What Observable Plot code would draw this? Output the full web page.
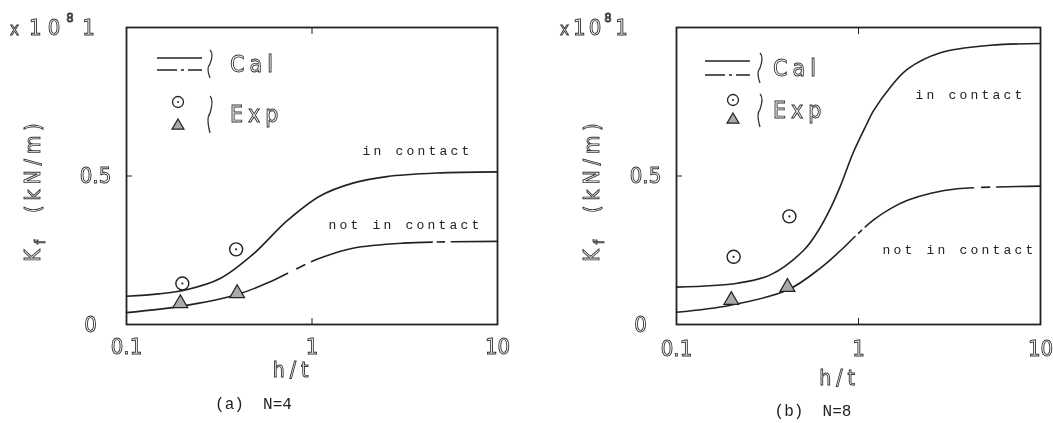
<!DOCTYPE html>
<html><head><meta charset="utf-8">
<script src="https://cdn.jsdelivr.net/npm/d3@7"></script>
<script src="https://cdn.jsdelivr.net/npm/@observablehq/plot@0.6"></script>
<style>
body{margin:0;background:#fff;}
#wrap{position:relative;width:1053px;height:423px;overflow:hidden;background:#fff;filter:grayscale(1);}
#wrap svg{position:absolute;top:0;}
svg g[aria-label$="tick label"] text, .outline{fill:#fff;stroke:#333;stroke-width:0.9px;font-family:"Liberation Sans Narrow","DejaVu Sans",sans-serif;font-stretch:condensed;}
.mono{font-family:"Liberation Mono","DejaVu Sans Mono",monospace;fill:#222;}
</style></head><body><div id="wrap"></div>
<script>
// ---- data: panel (a) N=4 ----
const xContactA = [0.1, 0.15, 0.213, 0.32, 0.48, 0.73, 1.1, 1.66, 2.53, 4.7, 10];
const kContactA = [0.095, 0.103, 0.118, 0.155, 0.236, 0.348, 0.432, 0.476, 0.498, 0.51, 0.514];
const xFreeA = [0.1, 0.195, 0.395, 0.6, 0.86, 1.1, 1.66, 3.1, 10];
const kFreeA = [0.04, 0.061, 0.101, 0.145, 0.193, 0.223, 0.257, 0.274, 0.28];
const xCircA = [0.2, 0.39];
const kCircA = [0.138, 0.253];
const xTriA = [0.195, 0.395];
const kTriA = [0.071, 0.105];
// ---- data: panel (b) N=8 ----
const xContactB = [0.1, 0.216, 0.328, 0.5, 0.6, 0.7, 0.8, 0.93, 1.1, 1.21, 1.5, 1.86, 2.82, 5.3, 10];
const kContactB = [0.126, 0.139, 0.167, 0.25, 0.315, 0.39, 0.47, 0.575, 0.67, 0.72, 0.8, 0.86, 0.915, 0.94, 0.946];
const xFreeB = [0.1, 0.198, 0.407, 0.618, 0.8, 0.99, 1.21, 1.5, 1.86, 2.5, 3.5, 10];
const kFreeB = [0.041, 0.065, 0.116, 0.19, 0.25, 0.305, 0.352, 0.39, 0.418, 0.442, 0.457, 0.466];
const xCircB = [0.206, 0.417];
const kCircB = [0.228, 0.364];
const xTriB = [0.2, 0.407];
const kTriB = [0.082, 0.126];
// ---- ticks ----
const xTicks = [0.1, 1, 10];
const xTickLabels = ["0.1", "1", "10"];
const yTicks = [0, 0.5, 1];
const yTickLabels = ["0", "0.5", "1"];
const captions = ["(a)  N=4", "(b)  N=8"];
const curveLabels = ["in contact", "not in contact"];

const H = 423;
const wrap = document.getElementById("wrap");
const rows = (xs, ks) => xs.map((x, i) => ({x, k: ks[i]}));
const yFmt = d => yTickLabels[yTicks.indexOf(d)];

function panel(p) {
  const mT = 27, mB = 99;
  const plot = Plot.plot({
    width: p.width, height: H,
    marginLeft: p.mL, marginRight: p.mR, marginTop: mT, marginBottom: mB,
    x: {type: "log", domain: [0.1, 10]},
    y: {domain: [0, 1]},
    style: {background: "transparent", overflow: "visible"},
    marks: [
      Plot.frame({stroke: "#222", strokeWidth: 1.8}),
      Plot.axisX([1], {anchor: "bottom", label: null, tickSize: -6, tickFormat: () => "", stroke: "#222"}),
      Plot.axisX([1], {anchor: "top", label: null, tickSize: -6, tickFormat: () => "", stroke: "#222"}),
      Plot.axisY([0.5], {anchor: "left", label: null, tickSize: -6, tickFormat: () => "", stroke: "#222"}),
      Plot.axisX(xTicks, {anchor: "bottom", label: null, tickSize: 0, tickPadding: p.xPad, fontSize: 22,
        tickFormat: d => xTickLabels[xTicks.indexOf(d)]}),
      Plot.axisY([yTicks[0]], {anchor: "left", label: null, tickSize: 0, tickPadding: 36, textAnchor: "middle", fontSize: 22, tickFormat: yFmt}),
      Plot.axisY([yTicks[1]], {anchor: "left", label: null, tickSize: 0, tickPadding: 31, textAnchor: "middle", fontSize: 22, tickFormat: yFmt}),
      Plot.axisY([yTicks[2]], {anchor: "left", label: null, tickSize: 0, tickPadding: p.onePad, textAnchor: "middle", fontSize: 22, tickFormat: yFmt}),
      Plot.line(rows(p.xc, p.kc), {x: "x", y: "k", curve: "catmull-rom", stroke: "#222", strokeWidth: 1.6}),
      Plot.line(rows(p.xf, p.kf), {x: "x", y: "k", curve: "catmull-rom", stroke: "#222", strokeWidth: 1.6, strokeDasharray: p.dash}),
      Plot.dot(rows(p.xci, p.kci), {x: "x", y: "k", r: 6.5, stroke: "#222", strokeWidth: 1.4, fill: "white"}),
      Plot.dot(rows(p.xci, p.kci), {x: "x", y: "k", r: 1.1, fill: "#222"}),
      Plot.dot(rows(p.xt, p.kt), {x: "x", y: "k", symbol: "triangle", r: 5.5, stroke: "#222", strokeWidth: 1.2, fill: "#aaa"}),
      Plot.text([curveLabels[0]], {text: d => d, frameAnchor: "top-left", textAnchor: "start", dx: p.c1[0], dy: p.c1[1], fontSize: 13, fontFamily: "Liberation Mono", fill: "#222"}),
      Plot.text([curveLabels[1]], {text: d => d, frameAnchor: "top-left", textAnchor: "start", dx: p.c2[0], dy: p.c2[1], fontSize: 13, fontFamily: "Liberation Mono", fill: "#222"})
    ]
  });
  plot.style.left = p.left + "px";
  const svg = d3.select(plot);
  svg.selectAll('g[aria-label="text"] text').style("letter-spacing", "3.2px");
  const fx = p.mL;
  const xs = Plot.scale({x: {type: "log", domain: [0.1, 10], range: [p.mL, p.width - p.mR]}});
  const x1 = xs.apply(1);
  // x10^8 multiplier
  const m = svg.append("text").attr("class", "outline").attr("text-anchor", "start")
    .attr("x", fx - 116).attr("y", 35).style("font-size", "22px");
  m.append("tspan").text("x").style("font-size", "17px");
  m.append("tspan").attr("dx", p.mulGap).text("10").style("letter-spacing", p.mulSpace + "px");
  m.append("tspan").attr("dy", -13).text("8").style("font-size", "13px");
  // y label
  const yl = svg.append("text").attr("class", "outline")
    .attr("transform", `translate(${fx - p.yLab},${190}) rotate(-90)`)
    .attr("text-anchor", "middle").style("font-size", "21px").style("letter-spacing", "5px");
  yl.append("tspan").text("K");
  yl.append("tspan").attr("dy", 5).style("font-size", "14px").text("f");
  yl.append("tspan").attr("dy", -5).text("  (kN/m)");
  // x label
  svg.append("text").attr("class", "outline").attr("x", x1 + 2).attr("y", p.htY)
    .attr("text-anchor", "end").style("font-size", "21px").style("letter-spacing", "5px").text("h/t");
  // caption
  svg.append("text").attr("class", "mono").attr("x", x1 + p.capDx).attr("y", p.capY)
    .attr("text-anchor", "middle").style("font-size", "16px").text(p.caption);
  // legend
  const lg = svg.append("g").attr("transform", `translate(${fx},0)`).attr("text-anchor", "start");
  lg.append("line").attr("x1", p.lg.l0).attr("x2", p.lg.l1).attr("y1", p.lg.y1).attr("y2", p.lg.y1).attr("stroke", "#222").attr("stroke-width", 1.6);
  lg.append("line").attr("x1", p.lg.l0).attr("x2", p.lg.l1).attr("y1", p.lg.y2).attr("y2", p.lg.y2).attr("stroke", "#222").attr("stroke-width", 1.6).attr("stroke-dasharray", "20,4,3,4,30");
  lg.append("path").attr("d", `M${p.lg.br},${p.lg.y1 - 8} q4,4 0,${(p.lg.y2 - p.lg.y1) / 2 + 8} q-4,4 0,${(p.lg.y2 - p.lg.y1) / 2 + 8}`).attr("fill", "none").attr("stroke", "#333").attr("stroke-width", 1.3);
  lg.append("text").attr("class", "outline").attr("x", p.lg.tx).attr("y", (p.lg.y1 + p.lg.y2) / 2 + 8).style("font-size", "23px").style("letter-spacing", "5px").text("Cal");
  lg.append("circle").attr("cx", p.lg.cx).attr("cy", p.lg.cy).attr("r", 5.5).attr("fill", "white").attr("stroke", "#222").attr("stroke-width", 1.3);
  lg.append("circle").attr("cx", p.lg.cx).attr("cy", p.lg.cy).attr("r", 1).attr("fill", "#222");
  const ty = p.lg.ty, tr = 6;
  lg.append("path").attr("d", `M${p.lg.cx},${ty - tr} L${p.lg.cx + tr},${ty + tr * 0.7} L${p.lg.cx - tr},${ty + tr * 0.7} Z`).attr("fill", "#aaa").attr("stroke", "#222").attr("stroke-width", 1.2);
  lg.append("path").attr("d", `M${p.lg.br},${p.lg.cy - 6} q4,4 0,${(ty - p.lg.cy) / 2 + 6} q-4,4 0,${(ty - p.lg.cy) / 2 + 8}`).attr("fill", "none").attr("stroke", "#333").attr("stroke-width", 1.3);
  lg.append("text").attr("class", "outline").attr("x", p.lg.tx).attr("y", (p.lg.cy + ty) / 2 + 8).style("font-size", "23px").style("letter-spacing", "5px").text("Exp");
  wrap.appendChild(plot);
}

panel({left: 0, width: 520, mL: 126, mR: 23, xPad: 14, onePad: 38,
  xc: xContactA, kc: kContactA, xf: xFreeA, kf: kFreeA, xci: xCircA, kci: kCircA, xt: xTriA, kt: kTriA,
  dash: "167,10,9,8,123,5,7,7,300", c1: [236, 118], c2: [202, 192],
  mulGap: 10, mulSpace: 6, yLab: 86, htY: 377, capDx: -58, capY: 409, caption: captions[0],
  lg: {l0: 31, l1: 76, y1: 58, y2: 70, br: 84, tx: 104, cx: 52, cy: 102, ty: 125}});
panel({left: 520, width: 533, mL: 156, mR: 13, xPad: 16, onePad: 55,
  xc: xContactB, kc: kContactB, xf: xFreeB, kf: kFreeB, xci: xCircB, kci: kCircB, xt: xTriB, kt: kTriB,
  dash: "200,5,4,5,118,8,8,7,300", c1: [239, 62], c2: [206, 217],
  mulGap: 4, mulSpace: 3, yLab: 77, htY: 385, capDx: -45, capY: 416, caption: captions[1],
  lg: {l0: 29, l1: 74, y1: 61, y2: 75, br: 84, tx: 97, cx: 57, cy: 100, ty: 119}});
</script></body></html>
